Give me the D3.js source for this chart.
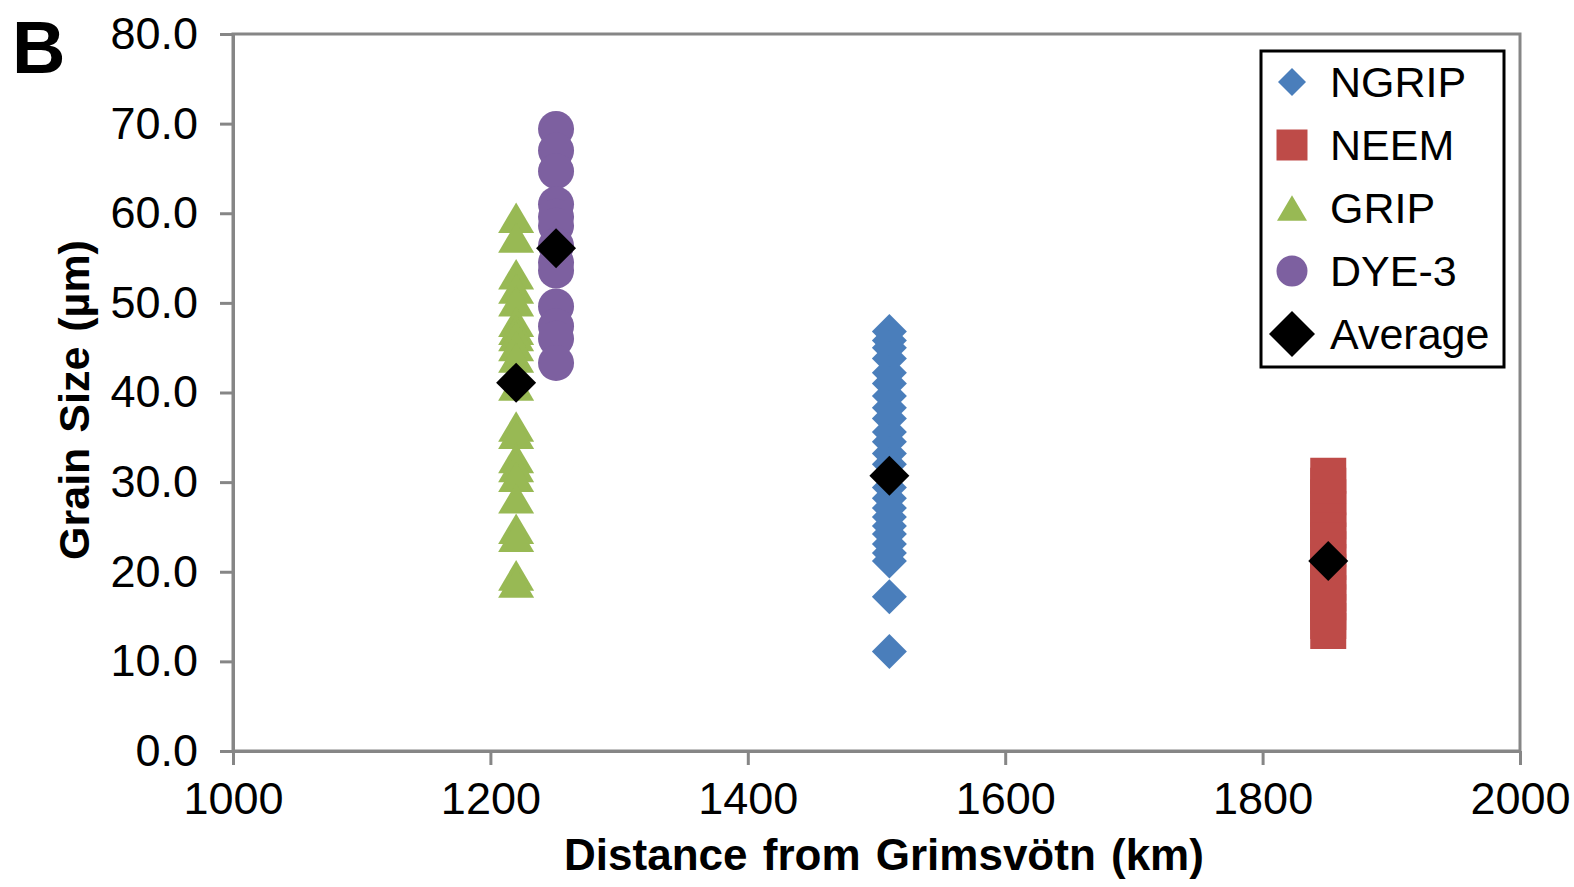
<!DOCTYPE html>
<html>
<head>
<meta charset="utf-8">
<script src="https://cdn.jsdelivr.net/npm/d3@7"></script>
<style>
body{margin:0;background:#fff;}
svg{display:block;font-family:"Liberation Sans",Arial,sans-serif;}
</style>
</head>
<body>
<div id="wrapper"></div>
<script>
// Data
const sites = ["NGRIP", "NEEM", "GRIP", "DYE-3"];
const distances = [1510, 1851, 1220, 1251];
const ngripValues = [46.8, 45.8, 45.0, 43.8, 42.2, 41.0, 39.6, 38.3, 37.1, 35.6, 34.5, 33.2, 32.0, 30.6, 29.4, 28.2, 27.1, 26.1, 25.1, 24.2, 23.1, 22.1, 21.2, 17.2, 11.1];
const neemValues = [30.7, 29.6, 28.3, 27.0, 25.6, 24.6, 23.5, 22.5, 21.1, 20.0, 18.8, 17.6, 16.6, 15.5, 14.5, 13.4];
const gripValues = [59.5, 57.3, 53.2, 51.6, 50.2, 47.9, 47.0, 46.3, 45.2, 43.9, 40.8, 36.2, 35.4, 32.7, 31.7, 30.6, 28.2, 24.8, 23.9, 19.6, 18.8];
const dye3Values = [69.4, 67.0, 64.7, 61.0, 59.6, 58.6, 56.4, 54.5, 53.6, 49.6, 47.4, 46.0, 43.3];
const averageValues = [30.7, 21.2, 41.1, 56.1];
const xTicks = [1000, 1200, 1400, 1600, 1800, 2000];
const yTicks = [0, 10, 20, 30, 40, 50, 60, 70, 80];
const legendLabels = ["NGRIP", "NEEM", "GRIP", "DYE-3", "Average"];

const colors = {NGRIP: "#4A7EBB", NEEM: "#BE4B48", GRIP: "#98B954", "DYE-3": "#7D60A0", Average: "#000"};

// Dimension
const dimension = {width: 1574, height: 887, left: 233, right: 1520, top: 34, bottom: 751};

// Scales
const xScale = d3.scaleLinear().domain([1000, 2000]).range([dimension.left, dimension.right]);
const yScale = d3.scaleLinear().domain([0, 80]).range([dimension.bottom, dimension.top]);

// custom symbol types, size = half width
const diamond = {draw(c, s){ c.moveTo(0, -s); c.lineTo(s, 0); c.lineTo(0, s); c.lineTo(-s, 0); c.closePath(); }};
const square = {draw(c, s){ c.rect(-s, -s, 2*s, 2*s); }};
const triangle = {draw(c, s){ const h = s*0.85; c.moveTo(0, -h); c.lineTo(s, h); c.lineTo(-s, h); c.closePath(); }};
const circle = {draw(c, s){ c.moveTo(s, 0); c.arc(0, 0, s, 0, 2*Math.PI); }};
const shapes = {NGRIP: diamond, NEEM: square, GRIP: triangle, "DYE-3": circle, Average: diamond};
const plotSize = {NGRIP: 17.5, NEEM: 18, GRIP: 18, "DYE-3": 18, Average: 20};
const legendSize = {NGRIP: 14, NEEM: 15.5, GRIP: 15, "DYE-3": 15.5, Average: 23};

const svg = d3.select("#wrapper").append("svg")
  .attr("width", dimension.width).attr("height", dimension.height);

// plot area border
svg.append("rect")
  .attr("x", dimension.left).attr("y", dimension.top)
  .attr("width", dimension.right - dimension.left).attr("height", dimension.bottom - dimension.top)
  .attr("fill", "none").attr("stroke", "#868686").attr("stroke-width", 3);

// Axes
const xAxis = svg.append("g").attr("transform", `translate(0,${dimension.bottom})`)
  .call(d3.axisBottom(xScale).tickValues(xTicks).tickFormat(d3.format("d")).tickSize(14).tickSizeOuter(0).tickPadding(17));
const yAxis = svg.append("g").attr("transform", `translate(${dimension.left},0)`)
  .call(d3.axisLeft(yScale).tickValues(yTicks).tickFormat(d3.format(".1f")).tickSize(13).tickSizeOuter(0).tickPadding(22));
[xAxis, yAxis].forEach(a => {
  a.select(".domain").attr("stroke", "#868686").attr("stroke-width", 3);
  a.selectAll(".tick line").attr("stroke", "#868686").attr("stroke-width", 3);
  a.selectAll(".tick text").attr("fill", "#000").attr("font-size", "45px")
    .attr("font-family", "Liberation Sans, Arial, sans-serif");
});

// Series
const seriesValues = [ngripValues, neemValues, gripValues, dye3Values];
sites.forEach((site, i) => {
  svg.append("g").selectAll("path").data(seriesValues[i]).enter().append("path")
    .attr("d", d3.symbol().type(shapes[site]).size(plotSize[site]))
    .attr("transform", d => `translate(${xScale(distances[i])},${yScale(d)})`)
    .attr("fill", colors[site]);
});
svg.append("g").selectAll("path").data(averageValues).enter().append("path")
  .attr("d", d3.symbol().type(diamond).size(plotSize.Average))
  .attr("transform", (d, i) => `translate(${xScale(distances[i])},${yScale(d)})`)
  .attr("fill", "#000");

// Axis titles
svg.append("text").attr("x", 884).attr("y", 870).attr("text-anchor", "middle")
  .attr("font-size", "44px").attr("font-weight", "bold").attr("word-spacing", "3px")
  .text("Distance from Grimsvötn (km)");
svg.append("text").attr("transform", "translate(89,400) rotate(-90)").attr("text-anchor", "middle")
  .attr("font-size", "43px").attr("font-weight", "bold").attr("word-spacing", "3px")
  .text("Grain Size (µm)");

// Panel letter
svg.append("text").attr("x", 12).attr("y", 73).attr("font-size", "74px").attr("font-weight", "bold").text("B");

// Legend
const legend = svg.append("g");
legend.append("rect").attr("x", 1261).attr("y", 51).attr("width", 243).attr("height", 316)
  .attr("fill", "#fff").attr("stroke", "#000").attr("stroke-width", 3);
const rows = legend.selectAll("g.row").data(legendLabels).enter().append("g")
  .attr("transform", (d, i) => `translate(1292,${82 + i*63})`);
rows.append("path")
  .attr("d", d => d3.symbol().type(shapes[d]).size(legendSize[d])())
  .attr("fill", d => colors[d]);
rows.append("text").attr("x", 38).attr("dy", "0.36em").attr("font-size", "43px").text(d => d);
</script>
</body>
</html>
